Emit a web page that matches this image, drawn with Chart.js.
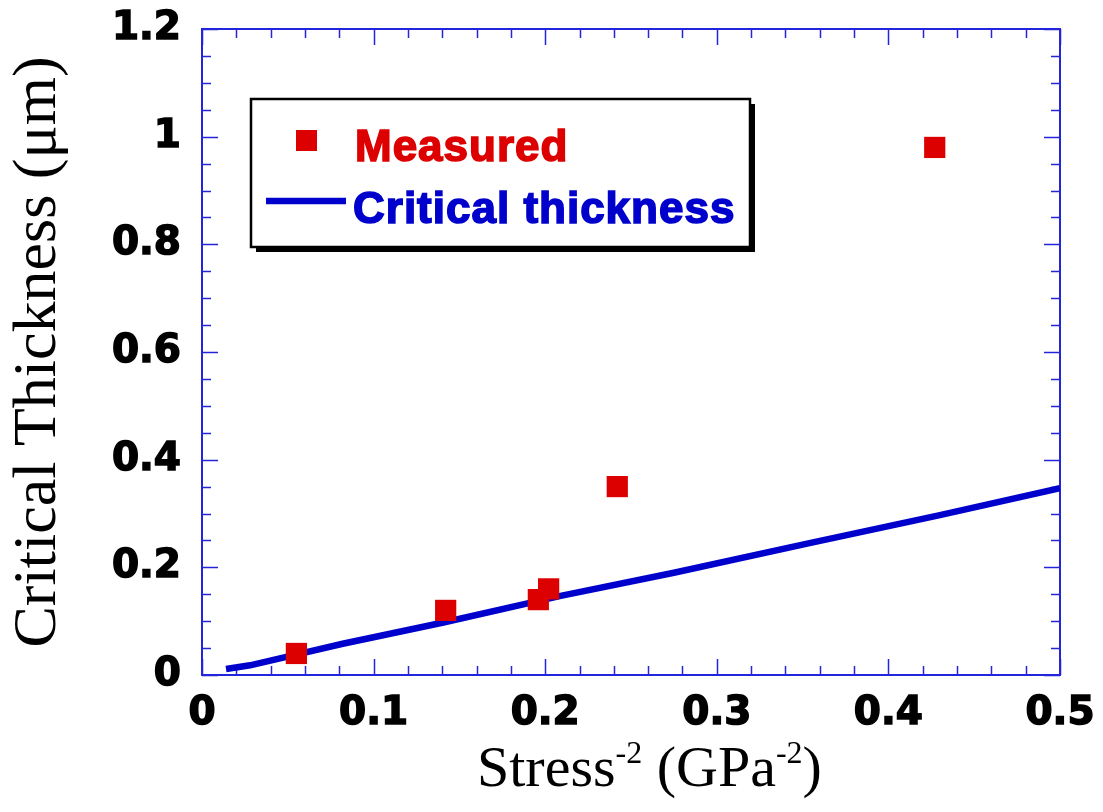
<!DOCTYPE html>
<html>
<head>
<meta charset="utf-8">
<script src="https://cdn.jsdelivr.net/npm/chart.js@4.4.0/dist/chart.umd.min.js"></script>
<style>
  html, body { margin: 0; padding: 0; background: #fff; }
</style>
</head>
<body>
<canvas id="myChart" width="1103" height="812"></canvas>
<script>
// measured film thickness vs. stress^-2
const measuredX = [0.055, 0.142, 0.196, 0.202, 0.242, 0.427];
const measuredY = [0.04, 0.12, 0.14, 0.16, 0.35, 0.98];

// model curve
const criticalX = [0.014, 0.028, 0.082, 0.14, 0.209, 0.275, 0.354, 0.43, 0.5];
const criticalY = [0.011, 0.018, 0.058, 0.097, 0.147, 0.19, 0.245, 0.297, 0.347];

const xTicks = [0, 0.1, 0.2, 0.3, 0.4, 0.5];
const yTicks = [0, 0.2, 0.4, 0.6, 0.8, 1, 1.2];
const xMinor = 0.02;
const yMinor = 0.05;

const RED = '#dd0000';
const BLUE = '#0000cc';
const AXIS = '#2424dc';

const ctx = document.getElementById('myChart');

const tickFont = { family: '"DejaVu Sans", sans-serif', size: 39, weight: 'bold' };

// box, inward ticks on all four sides
const framePlugin = {
  id: 'frame',
  beforeDatasetsDraw(chart) {
    const c = chart.ctx, a = chart.chartArea;
    const xs = chart.scales.x, ys = chart.scales.y;
    c.save();
    c.strokeStyle = AXIS;
    c.lineWidth = 2;
    c.strokeRect(a.left, a.top, a.right - a.left, a.bottom - a.top);
    c.lineWidth = 1.5;
    c.beginPath();
    for (let i = 0; i <= Math.round(xs.max / xMinor); i++) {
      const len = i % 5 === 0 ? 16 : 9;
      const px = Math.round(xs.getPixelForValue(i * xMinor)) + 0.5;
      c.moveTo(px, a.bottom); c.lineTo(px, a.bottom - len);
      c.moveTo(px, a.top); c.lineTo(px, a.top + len);
    }
    for (let i = 0; i <= Math.round(ys.max / yMinor); i++) {
      const len = i % 4 === 0 ? 16 : 9;
      const py = Math.round(ys.getPixelForValue(i * yMinor)) + 0.5;
      c.moveTo(a.left, py); c.lineTo(a.left + len, py);
      c.moveTo(a.right, py); c.lineTo(a.right - len, py);
    }
    c.stroke();
    c.restore();
  },
  afterDraw(chart) {
    const c = chart.ctx, a = chart.chartArea;
    c.save();
    c.fillStyle = '#000';

    // y title
    c.font = '62px "Liberation Serif", "Times New Roman", serif';
    c.textAlign = 'center';
    c.textBaseline = 'alphabetic';
    c.translate(55, (a.top + a.bottom) / 2);
    c.rotate(-Math.PI / 2);
    c.fillText('Critical Thickness (\u03bcm)', 0, 0);
    c.setTransform(1, 0, 0, 1, 0, 0);

    // x title with superscripts
    const parts = [['Stress', false], ['-2', true], [' (GPa', false], ['-2', true], [')', false]];
    const big = '58px "Liberation Serif", "Times New Roman", serif';
    const small = '32px "Liberation Serif", "Times New Roman", serif';
    c.textAlign = 'left';
    let x = 477;
    const base = 786;
    for (const [t, sup] of parts) {
      c.font = sup ? small : big;
      c.fillText(t, x, sup ? base - 23 : base);
      x += c.measureText(t).width;
    }

    // legend
    const lx = 251, ly = 99, lw = 499, lh = 148;
    c.fillStyle = '#000';
    c.fillRect(lx + 5, ly + 5, lw, lh);
    c.fillStyle = '#fff';
    c.fillRect(lx, ly, lw, lh);
    c.strokeStyle = '#000';
    c.lineWidth = 2.5;
    c.strokeRect(lx, ly, lw, lh);

    const ds = chart.data.datasets;
    c.font = 'bold 44px "Liberation Sans", Arial, sans-serif';
    c.letterSpacing = '1px';
    c.lineWidth = 1.6;
    c.fillStyle = c.strokeStyle = ds[0].backgroundColor;
    c.fillRect(296, 130, 21, 21);
    c.fillText(ds[0].label, 355, 161);
    c.strokeText(ds[0].label, 355, 161);

    c.fillStyle = c.strokeStyle = ds[1].borderColor;
    c.fillText(ds[1].label, 353, 223);
    c.strokeText(ds[1].label, 353, 223);
    c.lineWidth = 6.5;
    c.beginPath();
    c.moveTo(266, 201); c.lineTo(346, 201);
    c.stroke();
    c.restore();
  }
};

new Chart(ctx, {
  type: 'scatter',
  data: {
    datasets: [{
      label: 'Measured',
      data: measuredX.map((v, i) => ({ x: v, y: measuredY[i] })),
      backgroundColor: RED,
      borderWidth: 0,
      pointStyle: 'rect',
      pointRadius: 15,
      order: 0
    }, {
      label: 'Critical thickness',
      type: 'line',
      data: criticalX.map((v, i) => ({ x: v, y: criticalY[i] })),
      borderColor: BLUE,
      borderWidth: 6.5,
      pointRadius: 0,
      tension: 0,
      fill: false,
      order: 1
    }]
  },
  options: {
    responsive: false,
    animation: false,
    layout: { padding: { top: 29, right: 43, left: 0, bottom: 0 } },
    plugins: { legend: { display: false }, tooltip: { enabled: false } },
    scales: {
      x: {
        type: 'linear',
        min: 0,
        max: 0.5,
        afterFit: s => {
          s.height = 137;
          s.paddingLeft = 0; s.paddingRight = 0;
        },
        afterBuildTicks: s => { s.ticks = xTicks.map(v => ({ value: v })); },
        grid: { display: false, drawTicks: false },
        border: { display: false },
        ticks: {
          color: '#000',
          textStrokeColor: '#000',
          textStrokeWidth: 1.5,
          padding: 15,
          maxRotation: 0,
          autoSkip: false,
          font: tickFont,
          callback: v => String(v)
        }
      },
      y: {
        min: 0,
        max: 1.2,
        afterFit: s => {
          s.width = 202;
          s.paddingTop = 0; s.paddingBottom = 0;
        },
        afterBuildTicks: s => { s.ticks = yTicks.map(v => ({ value: v })); },
        grid: { display: false, drawTicks: false },
        border: { display: false },
        ticks: {
          color: '#000',
          textStrokeColor: '#000',
          textStrokeWidth: 1.5,
          padding: 21,
          autoSkip: false,
          font: tickFont,
          callback: v => String(v)
        }
      }
    }
  },
  plugins: [framePlugin]
});
</script>
</body>
</html>
